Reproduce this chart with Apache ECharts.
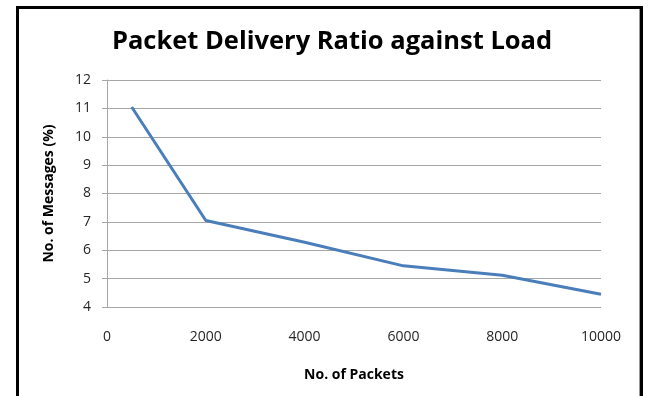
<!DOCTYPE html>
<html>
<head>
<meta charset="utf-8">
<style>
  html, body { margin: 0; padding: 0; background: #ffffff; }
  #chart { width: 648px; height: 396px; }
</style>
<script src="https://cdn.jsdelivr.net/npm/echarts@6/dist/echarts.min.js"></script>
</head>
<body>
<div id="chart"></div>
<script>
// Packet delivery ratio measured at increasing load
const packets = [500, 2000, 4000, 6000, 8000, 10000];
const messagesPct = [11.05, 7.05, 6.28, 5.45, 5.12, 4.45];

const chartTitle = 'Packet Delivery Ratio against Load';
const xAxisName = 'No. of Packets';
const yAxisName = 'No. of Messages (%)';

const chart = echarts.init(document.getElementById('chart'), null, { renderer: 'canvas' });

const labelFont = { fontFamily: 'Open Sans', fontSize: 14, color: '#262626' };
const nameFont = { fontFamily: 'Open Sans', fontWeight: 'bold', fontSize: 14, color: '#000000' };

chart.setOption({
  backgroundColor: '#ffffff',
  animation: false,
  title: {
    text: chartTitle,
    left: 327,
    top: 24,
    textAlign: 'center',
    textStyle: { fontFamily: 'Open Sans', fontWeight: 'bold', fontSize: 25.5, color: '#000000' }
  },
  grid: { left: 107, right: 47, top: 80, bottom: 89 },
  xAxis: {
    type: 'value',
    min: 0,
    max: 10000,
    interval: 2000,
    name: xAxisName,
    nameLocation: 'middle',
    nameGap: 61,
    nameTextStyle: nameFont,
    axisLine: { show: false },
    axisTick: { show: false },
    splitLine: { show: false },
    axisLabel: Object.assign({ margin: 23, formatter: v => String(v) }, labelFont)
  },
  yAxis: {
    type: 'value',
    min: 4,
    max: 12,
    interval: 1,
    name: yAxisName,
    nameLocation: 'middle',
    nameGap: 51,
    nameTextStyle: nameFont,
    axisLine: { show: true, lineStyle: { color: '#a6a6a6', width: 1 } },
    axisTick: { show: true, length: 5, lineStyle: { color: '#a6a6a6' } },
    splitLine: { show: true, lineStyle: { color: '#a6a6a6', width: 1 } },
    axisLabel: Object.assign({ margin: 16 }, labelFont)
  },
  series: [{
    type: 'line',
    data: packets.map((p, i) => [p, messagesPct[i]]),
    showSymbol: false,
    symbol: 'none',
    lineStyle: { color: '#4a7ebb', width: 3 },
    itemStyle: { color: '#4a7ebb' }
  }],
  graphic: [
    {
      type: 'polyline',
      shape: { points: [[17.5, 400], [17.5, 7.5], [641.5, 7.5], [641.5, 400]] },
      style: { stroke: '#000000', lineWidth: 3, fill: null }
    },
    {
      type: 'line',
      shape: { x1: 639.5, y1: 9, x2: 639.5, y2: 400 },
      style: { stroke: '#9a9a9a', lineWidth: 1 }
    }
  ]
});
</script>
</body>
</html>
